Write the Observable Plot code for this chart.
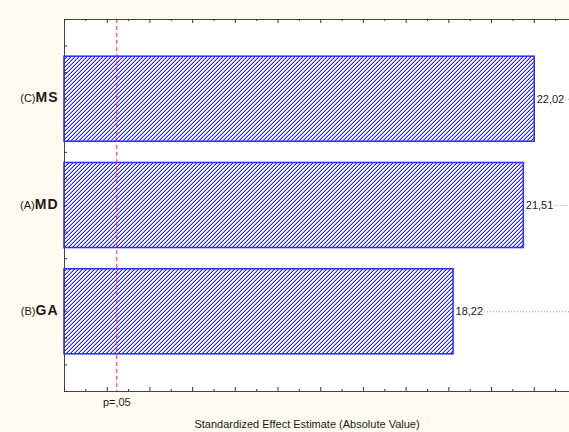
<!DOCTYPE html>
<html>
<head>
<meta charset="utf-8">
<script src="https://cdn.jsdelivr.net/npm/d3@7"></script>
<script src="https://cdn.jsdelivr.net/npm/@observablehq/plot@0.6"></script>
<style>
  html, body { margin: 0; padding: 0; background: #fffaf0; }
  #chart { width: 569px; height: 432px; overflow: hidden; }
</style>
</head>
<body>
<div id="chart"></div>
<script>
// ---- data ----
const prefixes = ["(C)", "(A)", "(B)"];
const factors = ["MS", "MD", "GA"];
const effects = [22.02, 21.51, 18.22];
const effectLabels = ["22,02", "21,51", "18,22"];
const pCritical = 2.45;
const pLabel = "p=,05";
const xTitle = "Standardized Effect Estimate (Absolute Value)";
const xMax = 23.65;

const rows = factors.map((f, i) => ({
  prefix: prefixes[i], factor: f, value: effects[i], label: effectLabels[i], i
}));

const font = "'Liberation Sans', Arial, sans-serif";
const W = 569, H = 432, mL = 64, mR = 0, mT = 19, mB = 41;
const frameW = W - mL - mR, frameH = H - mT - mB;

const majorX = d3.range(0, 24, 2);
const minorX = d3.range(1, 24, 2);
const yTicks = d3.range(-0.75, 2.76, 0.25);

const svg = Plot.plot({
  width: W,
  height: H,
  marginLeft: mL,
  marginRight: mR,
  marginTop: mT,
  marginBottom: mB,
  style: { background: "transparent", fontFamily: font, color: "#222" },
  x: { domain: [0, xMax], axis: null },
  y: { domain: [-0.75, 2.75], reverse: true, axis: null },
  marks: [
    Plot.frame({ fill: "white", stroke: "none" }),
    // hatched bars
    Plot.rect(rows, {
      x1: 0, x2: "value",
      y1: d => d.i - 0.4, y2: d => d.i + 0.4,
      fill: "url(#hatch)", stroke: "#3333ff", strokeWidth: 1.6
    }),
    // dotted leaders
    Plot.ruleY(rows, {
      y: "i", x1: d => d.value + 1.45, x2: xMax,
      stroke: "#9a9a9a", strokeDasharray: "1,2", strokeWidth: 1
    }),
    // value labels
    Plot.text(rows, {
      x: "value", y: "i", text: "label", dx: 2, textAnchor: "start",
      fontSize: 11, fill: "#1a1a1a"
    }),
    // significance line
    Plot.ruleX([pCritical], { x: d => d, stroke: "#ff2020", strokeDasharray: "4,3", strokeWidth: 1 }),
    Plot.text([pLabel], {
      x: pCritical, text: d => d, frameAnchor: "bottom", dy: 14,
      textAnchor: "middle", fontSize: 11, fill: "#1a1a1a"
    }),
    // axis title
    Plot.text([xTitle], {
      text: d => d, frameAnchor: "bottom", dy: 36, dx: -10,
      textAnchor: "middle", fontSize: 11, fill: "#1a1a1a"
    }),
    // category labels
    Plot.text(rows, {
      x: 0, y: "i", text: d => d.prefix + "|" + d.factor, dx: -6,
      textAnchor: "end", fill: "#1a1a1a"
    }),
    // frame lines (left, top, bottom)
    Plot.ruleX([0], { stroke: "#444" }),
    Plot.ruleY([-0.75, 2.75], { stroke: "#444" }),
    // inward ticks
    Plot.tickX(majorX, { x: d => d, insetTop: frameH - 4, stroke: "#333" }),
    Plot.tickX(minorX, { x: d => d, insetTop: frameH - 2, stroke: "#333" }),
    Plot.tickX(majorX, { x: d => d, insetBottom: frameH - 4, stroke: "#333" }),
    Plot.tickX(minorX, { x: d => d, insetBottom: frameH - 2, stroke: "#333" }),
    Plot.tickY(yTicks, { y: d => d, insetRight: frameW - 3, stroke: "#333" })
  ]
});

// hatch pattern built from pixels (dark diagonal + light halo)
const NS = "http://www.w3.org/2000/svg";
const defs = document.createElementNS(NS, "defs");
const pat = document.createElementNS(NS, "pattern");
pat.setAttribute("id", "hatch");
pat.setAttribute("patternUnits", "userSpaceOnUse");
pat.setAttribute("width", "4");
pat.setAttribute("height", "4");
function px(x, y, c) {
  const r = document.createElementNS(NS, "rect");
  r.setAttribute("x", x); r.setAttribute("y", y);
  r.setAttribute("width", 1); r.setAttribute("height", 1);
  r.setAttribute("fill", c);
  r.setAttribute("style", "fill:" + c + ";stroke:none");
  pat.appendChild(r);
}
for (let x = 0; x < 4; x++) for (let y = 0; y < 4; y++) {
  const s = (x + y) % 4;
  px(x, y, s === 3 ? "#2424ff" : s === 2 ? "#a4a4ff" : "#ffffff");
}
defs.appendChild(pat);
svg.insertBefore(defs, svg.firstChild);

// category labels: small regular prefix + bold factor
svg.querySelectorAll("text").forEach(t => {
  if (!t.textContent.includes("|")) return;
  const [p, f] = t.textContent.split("|");
  t.textContent = "";
  const a = document.createElementNS(NS, "tspan");
  a.setAttribute("font-size", "11");
  a.textContent = p;
  const b = document.createElementNS(NS, "tspan");
  b.setAttribute("font-size", "14");
  b.setAttribute("font-weight", "bold");
  b.setAttribute("letter-spacing", "1");
  b.textContent = f;
  t.appendChild(a); t.appendChild(b);
});

document.getElementById("chart").appendChild(svg);
</script>
</body>
</html>
